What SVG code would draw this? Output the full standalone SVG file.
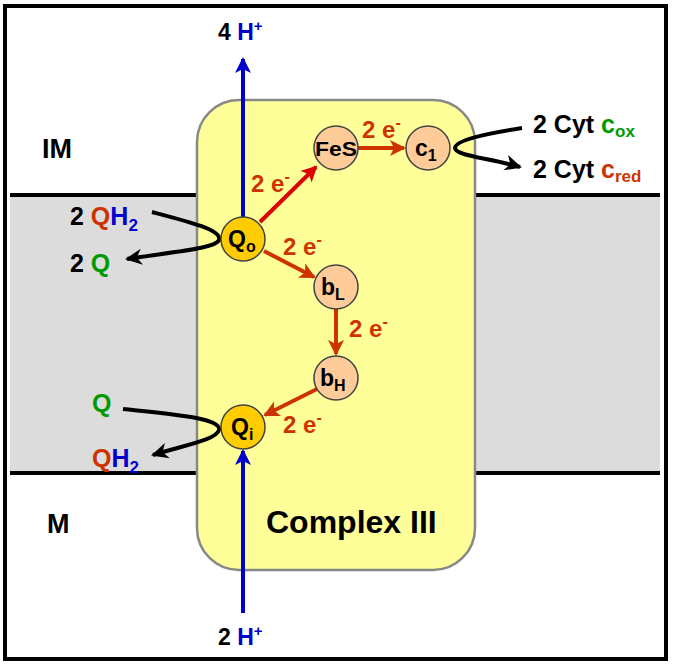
<svg xmlns="http://www.w3.org/2000/svg" width="673" height="665" viewBox="0 0 673 665">
<style>
text{font-family:"Liberation Sans",Arial,sans-serif;font-weight:bold;fill:#000}
.lbl{font-size:25px}
.e{font-size:24px;fill:#cc3300}
.node{font-size:23px}
.sub{font-size:16px}
.blue{fill:#0000cc}
.green{fill:#009900}
.red{fill:#cc3300}
.cu{fill:none;stroke:#000;stroke-width:4}
.ra{stroke:#cc3300;stroke-width:4;fill:none}
.rb{stroke:#dd0000;stroke-width:4;fill:none}
.bl{stroke:#0000cc;stroke-width:4;fill:none}
.pe{fill:#ffcc99;stroke:#444;stroke-width:1.5}
.go{fill:#ffcc00;stroke:#444;stroke-width:1.5}
</style>
<defs>
<marker id="ahK" markerUnits="userSpaceOnUse" markerWidth="22" markerHeight="22" refX="0" refY="0" viewBox="-18 -11 22 22" orient="auto"><path d="M2,0 L-15,-8 L-10,0 L-15,8 z" fill="#000"/></marker>
<marker id="ahR" markerUnits="userSpaceOnUse" markerWidth="22" markerHeight="22" refX="0" refY="0" viewBox="-18 -11 22 22" orient="auto"><path d="M2,0 L-14,-8 L-10,0 L-14,8 z" fill="#cc3300"/></marker>
<marker id="ahD" markerUnits="userSpaceOnUse" markerWidth="22" markerHeight="22" refX="0" refY="0" viewBox="-18 -11 22 22" orient="auto"><path d="M2,0 L-14,-8 L-10,0 L-14,8 z" fill="#dd0000"/></marker>
<marker id="ahB" markerUnits="userSpaceOnUse" markerWidth="22" markerHeight="22" refX="0" refY="0" viewBox="-18 -11 22 22" orient="auto"><path d="M2,0 L-14,-8 L-10,0 L-14,8 z" fill="#0000cc"/></marker>
</defs>
<rect x="0" y="0" width="673" height="665" fill="#fff"/>
<g id="membrane">
<rect x="10" y="195" width="650" height="278" fill="#dcdcdc"/>
<line x1="10" y1="195" x2="660" y2="195" stroke="#000" stroke-width="4"/>
<line x1="10" y1="473" x2="660" y2="473" stroke="#000" stroke-width="4"/>
</g>
<rect x="5" y="6" width="661" height="653" fill="none" stroke="#000" stroke-width="4"/>
<g id="complex3">
<rect x="197" y="100" width="278" height="470" rx="42" ry="42" fill="#ffff99" stroke="#888" stroke-width="2.5"/>
<text x="266" y="533" style="font-size:32px">Complex III</text>
</g>
<g id="connectors">
<line class="bl" x1="243" y1="217" x2="243" y2="59" marker-end="url(#ahB)"/>
<line class="bl" x1="243" y1="613" x2="243" y2="451" marker-end="url(#ahB)"/>
<line class="rb" x1="260" y1="222" x2="316" y2="167" marker-end="url(#ahD)"/>
<line class="ra" x1="264" y1="251" x2="314" y2="277" marker-end="url(#ahR)"/>
<line class="ra" x1="358" y1="148" x2="404" y2="148" marker-end="url(#ahR)"/>
<line class="ra" x1="336" y1="309" x2="336" y2="354" marker-end="url(#ahR)"/>
<line class="ra" x1="317" y1="389" x2="265" y2="415" marker-end="url(#ahR)"/>
<path class="cu" d="M152,212 C190,222 222,230 219,240 C216,248 180,251 127,259" marker-end="url(#ahK)"/>
<path class="cu" d="M123,409 C170,414 222,418 219,430 C216,440 185,445 153,455" marker-end="url(#ahK)"/>
<path class="cu" d="M522,128 C490,133 455,140 455,148 C455,156 490,158 520,167" marker-end="url(#ahK)"/>
</g>
<g id="Qo"><circle class="go" cx="243" cy="239" r="22"/><text class="node" x="228" y="247">Q<tspan class="sub" dy="5">o</tspan></text></g>
<g id="Qi"><circle class="go" cx="243" cy="427" r="22"/><text class="node" x="231" y="435">Q<tspan class="sub" dy="5">i</tspan></text></g>
<g id="FeS"><circle class="pe" cx="336" cy="148" r="22"/><text class="node" x="336" y="156" text-anchor="middle" textLength="42" lengthAdjust="spacingAndGlyphs" style="font-size:21px">FeS</text></g>
<g id="c1"><circle class="pe" cx="428" cy="148" r="22"/><text class="node" x="415" y="156">c<tspan class="sub" dy="5">1</tspan></text></g>
<g id="bL"><circle class="pe" cx="336" cy="287" r="22"/><text class="node" x="321" y="295">b<tspan class="sub" dy="5">L</tspan></text></g>
<g id="bH"><circle class="pe" cx="336" cy="378" r="22"/><text class="node" x="320" y="386">b<tspan class="sub" dy="5">H</tspan></text></g>
<g id="labels">
<text class="lbl" x="218" y="40" style="font-size:23px">4 <tspan class="blue">H</tspan><tspan class="blue" style="font-size:15px" dy="-9">+</tspan></text>
<text class="lbl" x="218" y="645" style="font-size:23px">2 <tspan class="blue">H</tspan><tspan class="blue" style="font-size:15px" dy="-9">+</tspan></text>
<text class="lbl" x="42" y="158" style="font-size:27px">IM</text>
<text class="lbl" x="47" y="533" style="font-size:27px">M</text>
<text class="lbl" x="70" y="225">2 <tspan class="red">Q</tspan><tspan class="blue">H</tspan><tspan class="blue" style="font-size:17px" dy="6">2</tspan></text>
<text class="lbl" x="70" y="272">2 <tspan class="green">Q</tspan></text>
<text class="lbl green" x="92" y="412">Q</text>
<text class="lbl" x="92" y="467"><tspan class="red">Q</tspan><tspan class="blue">H</tspan><tspan class="blue" style="font-size:17px" dy="6">2</tspan></text>
<text class="lbl" x="533" y="133">2 Cyt <tspan class="green">c</tspan><tspan class="green" style="font-size:17px" dy="4">ox</tspan></text>
<text class="lbl" x="533" y="178">2 Cyt <tspan class="red">c</tspan><tspan class="red" style="font-size:17px" dy="4">red</tspan></text>
<text class="e" x="251" y="192">2 e<tspan style="font-size:16px" dy="-10">-</tspan></text>
<text class="e" x="362" y="138">2 e<tspan style="font-size:16px" dy="-10">-</tspan></text>
<text class="e" x="283" y="255">2 e<tspan style="font-size:16px" dy="-10">-</tspan></text>
<text class="e" x="349" y="337">2 e<tspan style="font-size:16px" dy="-10">-</tspan></text>
<text class="e" x="283" y="433">2 e<tspan style="font-size:16px" dy="-10">-</tspan></text>
</g>
</svg>
